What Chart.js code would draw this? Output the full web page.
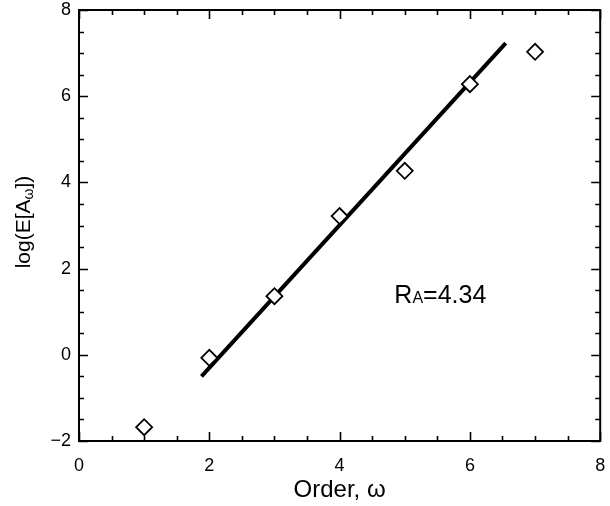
<!DOCTYPE html>
<html>
<head>
<meta charset="utf-8">
<script src="https://cdn.jsdelivr.net/npm/chart.js@4"></script>
<style>
    html, body { margin: 0; padding: 0; background: #fff; }
    #wrap { width: 610px; height: 506px; }
</style>
</head>
<body>
<div id="wrap"><canvas id="order-chart" width="610" height="506"></canvas></div>
<script>
// measured points
const orders = [1, 2, 3, 4, 5, 6, 7];
const logEA = [-1.68, -0.07, 1.36, 3.22, 4.27, 6.28, 7.03];

// fitted line end points
const fitX = [1.88, 6.55];
const fitY = [-0.5, 7.23];

const xTicks = [0, 2, 4, 6, 8];
const yTicks = [-2, 0, 2, 4, 6, 8];
const xTitle = 'Order, \u03c9';
const rLabel = { x: 4.84, y: 1.2, main: 'R', sub: 'A', rest: '=4.34' };

const FONT = '"Liberation Sans", Arial, sans-serif';

const framePlugin = {
    id: 'frame',
    afterDraw(chart) {
        const ctx = chart.ctx;
        const area = chart.chartArea;
        const xs = chart.scales.x;
        const ys = chart.scales.y;
        ctx.save();
        ctx.strokeStyle = '#000';
        ctx.lineWidth = 2;
        ctx.strokeRect(area.left, area.top, area.right - area.left, area.bottom - area.top);

        // inward ticks on all four sides, minor every 0.5
        ctx.lineWidth = 1.6;
        ctx.beginPath();
        for (let v = xs.min; v <= xs.max + 1e-9; v += 0.5) {
            const px = Math.round(xs.getPixelForValue(v)) + 0.5;
            const len = Math.abs(v % 2) < 1e-9 ? 9 : 5;
            ctx.moveTo(px, area.bottom); ctx.lineTo(px, area.bottom - len);
            ctx.moveTo(px, area.top); ctx.lineTo(px, area.top + len);
        }
        for (let v = ys.min; v <= ys.max + 1e-9; v += 0.5) {
            const py = Math.round(ys.getPixelForValue(v)) + 0.5;
            const len = Math.abs(v % 2) < 1e-9 ? 9 : 5;
            ctx.moveTo(area.left, py); ctx.lineTo(area.left + len, py);
            ctx.moveTo(area.right, py); ctx.lineTo(area.right - len, py);
        }
        ctx.stroke();

        ctx.fillStyle = '#000';
        // x title
        ctx.font = '24px ' + FONT;
        ctx.textAlign = 'center';
        ctx.textBaseline = 'middle';
        ctx.fillText(xTitle, (area.left + area.right) / 2, 490);

        // y title with subscript omega
        ctx.save();
        ctx.translate(22, 222);
        ctx.rotate(-Math.PI / 2);
        ctx.textAlign = 'left';
        ctx.textBaseline = 'alphabetic';
        const big = '21px ' + FONT, small = '14px ' + FONT;
        const parts = [['log(E[A', big, 0], ['\u03c9', small, 3], ['])', big, 0]];
        let w = 0;
        parts.forEach(p => { ctx.font = p[1]; w += ctx.measureText(p[0]).width; });
        let cx = -w / 2;
        parts.forEach(p => {
            ctx.font = p[1];
            ctx.fillText(p[0], cx, 8 + p[2]);
            cx += ctx.measureText(p[0]).width;
        });
        ctx.restore();

        // R_A label
        let lx = xs.getPixelForValue(rLabel.x);
        const ly = ys.getPixelForValue(rLabel.y);
        ctx.textAlign = 'left';
        ctx.textBaseline = 'alphabetic';
        ctx.font = '25px ' + FONT;
        ctx.fillText(rLabel.main, lx, ly);
        lx += ctx.measureText(rLabel.main).width;
        ctx.font = '16px ' + FONT;
        ctx.fillText(rLabel.sub, lx, ly);
        lx += ctx.measureText(rLabel.sub).width;
        ctx.font = '25px ' + FONT;
        ctx.fillText(rLabel.rest, lx, ly);
        ctx.restore();
    }
};

const ctx = document.getElementById('order-chart').getContext('2d');
new Chart(ctx, {
    type: 'scatter',
    data: {
        datasets: [{
            data: fitX.map((x, i) => ({ x: x, y: fitY[i] })),
            showLine: true,
            borderColor: '#000',
            borderWidth: 4,
            pointRadius: 0,
            order: 2
        }, {
            data: orders.map((x, i) => ({ x: x, y: logEA[i] })),
            pointStyle: 'rectRot',
            pointRadius: 8,
            pointBackgroundColor: '#fff',
            pointBorderColor: '#000',
            pointBorderWidth: 1.8,
            order: 1
        }]
    },
    options: {
        responsive: false,
        animation: false,
        layout: { padding: { top: 10, right: 7, left: 0, bottom: 0 } },
        plugins: { legend: { display: false }, tooltip: { enabled: false } },
        scales: {
            x: {
                type: 'linear',
                min: 0,
                max: 8,
                afterBuildTicks: s => { s.ticks = xTicks.map(v => ({ value: v })); },
                ticks: { color: '#000', font: { family: FONT, size: 18 }, padding: 14, maxRotation: 0 },
                grid: { display: false, drawTicks: false },
                border: { display: false },
                afterFit: s => { s.height = 65; s.paddingLeft = 0; s.paddingRight = 0; }
            },
            y: {
                type: 'linear',
                min: -2,
                max: 8,
                afterBuildTicks: s => { s.ticks = yTicks.map(v => ({ value: v })); },
                ticks: {
                    color: '#000',
                    font: { family: FONT, size: 18 },
                    padding: 8,
                    callback: v => String(v).replace('-', '\u2212')
                },
                grid: { display: false, drawTicks: false },
                border: { display: false },
                afterFit: s => { s.width = 79; s.paddingTop = 0; s.paddingBottom = 0; }
            }
        }
    },
    plugins: [framePlugin]
});
</script>
</body>
</html>
